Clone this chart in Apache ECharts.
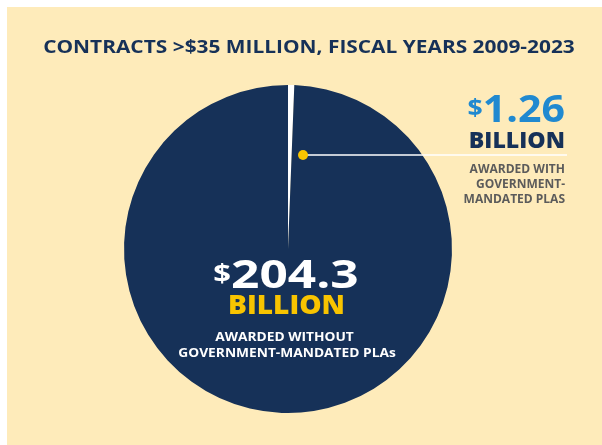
<!DOCTYPE html>
<html>
<head>
<meta charset="utf-8">
<script src="https://cdn.jsdelivr.net/npm/echarts@6/dist/echarts.min.js"></script>
<style>
html,body{margin:0;padding:0;background:#ffffff;}
#c{position:absolute;left:7px;top:7px;width:595px;height:438px;background:#FEEBBA;}
</style>
</head>
<body>
<div id="c"></div>
<script>
// Data
const categories = ['Awarded with government-mandated PLAs', 'Awarded without government-mandated PLAs'];
const values = [1.26, 204.3]; // $ billion
const titleText = 'CONTRACTS >$35 MILLION, FISCAL YEARS 2009-2023';
const bigLabel = ['$1.26', '$204.3'];

const NAVY = '#163158', BLUE = '#2089D0', YELLOW = '#F8C400', GRAY = '#5b5b5b';
const FONT = '"Open Sans", Lato, sans-serif';

const chart = echarts.init(document.getElementById('c'), null, {renderer: 'canvas'});

function num(s){ return s.replace('$',''); }
function txt(x, y, sx, align, text, fill, size, weight, extra){
  const st = Object.assign({x: 0, y: 0, align: align, verticalAlign: 'middle', text: text,
    fill: fill, fontFamily: FONT, fontWeight: weight || 'bold', fontSize: size}, extra || {});
  return {type: 'text', z: 10, x: x, y: y, scaleX: sx, scaleY: 1, style: st};
}

const option = {
  backgroundColor: 'transparent',
  animation: false,
  series: [{
    type: 'pie',
    center: [281, 242],
    radius: [0, 164],
    startAngle: 90,
    clockwise: true,
    label: {show: false},
    labelLine: {show: false},
    silent: true,
    data: [
      {name: categories[0], value: values[0], itemStyle: {color: '#ffffff'}},
      {name: categories[1], value: values[1], itemStyle: {color: NAVY}}
    ]
  }],
  graphic: [
    txt(302, 40.5, 1.16, 'center', titleText, NAVY, 18),
    // leader line and dot
    {type: 'line', shape: {x1: 296, y1: 148, x2: 560, y2: 148}, style: {stroke: '#ffffff', lineWidth: 1.5}, z: 10},
    {type: 'circle', shape: {cx: 296, cy: 148, r: 5}, style: {fill: YELLOW}, z: 11},
    // right annotation
    txt(558, 104.5, 1.11, 'right', '{d|$}{n|' + num(bigLabel[0]) + '}', BLUE, 37, 'bold', {
      rich: {d: {fontSize: 24, fontWeight: 'bold', fontFamily: FONT, fill: BLUE, verticalAlign: 'top', lineHeight: 24, padding: [6,0,0,0]},
             n: {fontSize: 37, fontWeight: 'bold', fontFamily: FONT, fill: BLUE, lineHeight: 40}}}),
    txt(558, 134.5, 1.05, 'right', 'BILLION', NAVY, 22, 800),
    txt(558, 163, 1, 'right', 'AWARDED WITH', GRAY, 12),
    txt(558, 177.5, 1, 'right', 'GOVERNMENT-', GRAY, 12),
    txt(558, 192.5, 1, 'right', 'MANDATED PLAS', GRAY, 12),
    // center annotation
    txt(279, 269.5, 1.24, 'center', '{d|$}{n|' + num(bigLabel[1]) + '}', '#ffffff', 40, 'bold', {
      rich: {d: {fontSize: 25, fontWeight: 'bold', fontFamily: FONT, fill: '#ffffff', verticalAlign: 'top', lineHeight: 25, padding: [7,0,0,0]},
             n: {fontSize: 40, fontWeight: 'bold', fontFamily: FONT, fill: '#ffffff', lineHeight: 42}}}),
    txt(279.5, 300, 1.08, 'center', 'BILLION', YELLOW, 26, 800),
    txt(277.5, 330.5, 1.1, 'center', 'AWARDED WITHOUT', '#ffffff', 12.5),
    txt(280, 346, 1.1, 'center', 'GOVERNMENT-MANDATED PLAs', '#ffffff', 12.5)
  ]
};
chart.setOption(option);
</script>
</body>
</html>
